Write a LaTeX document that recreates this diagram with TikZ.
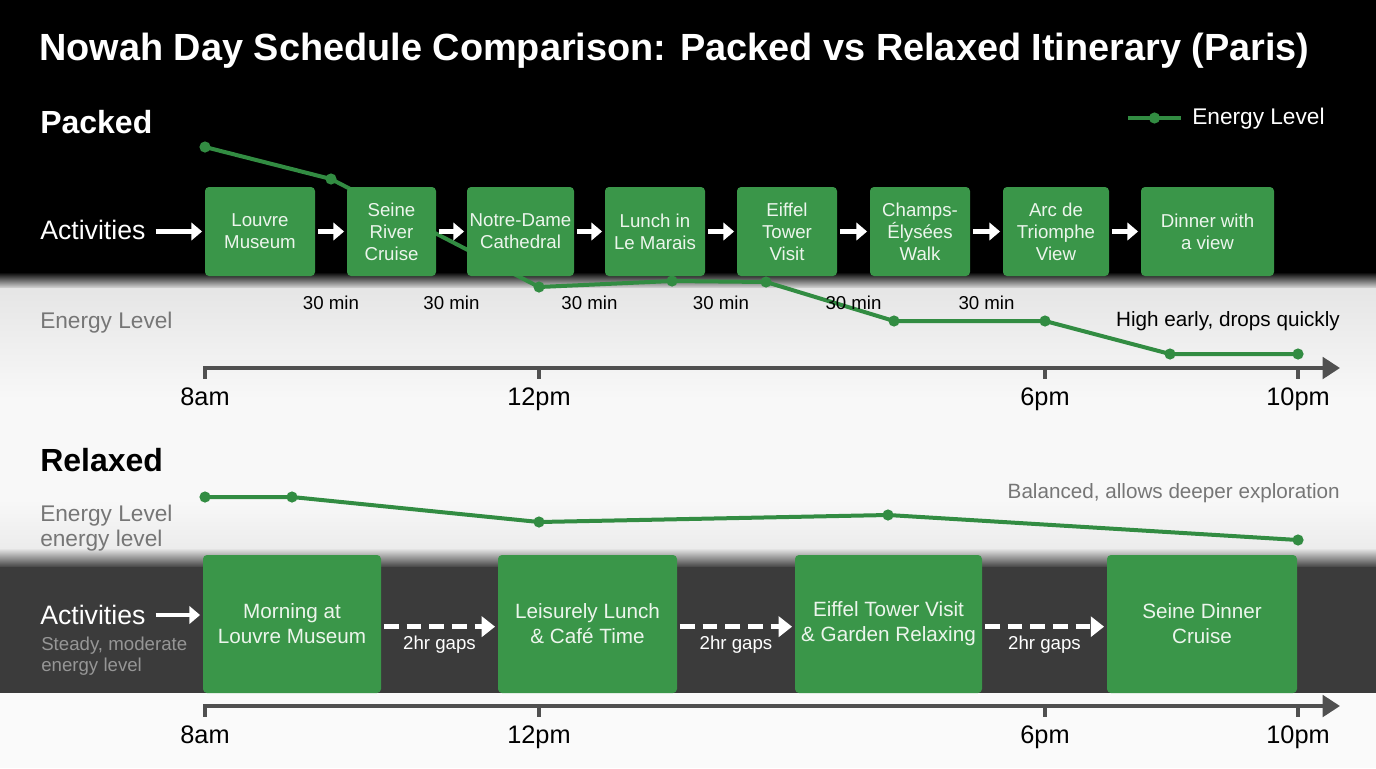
\documentclass[tikz,border=0pt]{standalone}
\usepackage{fontspec}
\setmainfont{Liberation Sans}
\usetikzlibrary{arrows.meta,calc}

\definecolor{boxgreen}{RGB}{58,150,73}
\definecolor{linegreen}{RGB}{50,140,66}
\definecolor{boxtext}{RGB}{236,245,236}
\definecolor{darkband}{RGB}{59,59,59}
\definecolor{axisgray}{RGB}{80,80,80}
\definecolor{softgray}{RGB}{118,118,118}
\definecolor{palegray}{RGB}{150,150,150}
\definecolor{lightbg}{RGB}{248,248,248}

\begin{document}
\begin{tikzpicture}[x=0.75pt,y=-0.75pt,
      actbox/.style={fill=boxgreen,rounded corners=3pt,text=boxtext,align=center,
         inner sep=0pt,minimum height=66.75pt,font=\fontsize{14}{16.5}\selectfont},
      relbox/.style={actbox,minimum height=103.5pt,font=\fontsize{15.5}{18.75}\selectfont},
      flow/.style={white,line width=3.6pt,-{Triangle[length=8pt,width=13pt]},
         shorten <=2pt,shorten >=2pt},
      gapflow/.style={flow,dash pattern=on 11pt off 6pt,-{Triangle[length=10pt,width=15pt]}},
      energy/.style={linegreen,line width=3pt,line join=round},
      axisline/.style={axisgray,line width=3pt,-{Triangle[length=13pt,width=16pt]}},
      tick/.style={axisgray,line width=3pt},
      timelabel/.style={anchor=base,inner sep=0pt,font=\fontsize{19}{22}\selectfont},
      gaplabel/.style={inner sep=0pt,font=\fontsize{14}{16}\selectfont}]
         \useasboundingbox (0,0) rectangle (1376,768) ;
         % backgrounds
         \fill[black] (0,0) rectangle (1376,273) ;
         \shade[top color=black,bottom color=gray!20] (0,272) rectangle (1376,289) ;
         \shade[top color=gray!20,bottom color=lightbg] (0,288) rectangle (1376,400) ;
         \fill[lightbg] (0,399) rectangle (1376,500) ;
         \shade[top color=lightbg,bottom color=gray!15] (0,499) rectangle (1376,549) ;
         \shade[top color=gray!15,bottom color=darkband] (0,548) rectangle (1376,568) ;
         \fill[darkband] (0,567) rectangle (1376,693) ;
         \fill[white!98!black] (0,693) rectangle (1376,768) ;
         %\draw[very thin,gray,step=50] (0,0) grid (1376,768) ;

         \node[anchor=west,inner sep=0pt,text=white,
            font=\bfseries\fontsize{28.4}{32}\selectfont] (title) at (39,51)
            {Nowah Day Schedule Comparison: Packed vs Relaxed Itinerary (Paris)} ;

         % packed day
         \node[anchor=west,inner sep=0pt,text=white,font=\bfseries\fontsize{24}{28}\selectfont]
            (packed) at (40,122) {Packed} ;
         \coordinate (leg1) at (1128,118) ;
         \coordinate (leg2) at (1181,118) ;
         \draw[energy] (leg1) -- (leg2) ;
         \fill[linegreen] ($(leg1)!.5!(leg2)$) circle (4.2pt) ;
         \node[anchor=west,inner sep=0pt,text=white,font=\fontsize{17}{20}\selectfont]
            (legtext) at (1192,119) {Energy Level} ;

         \foreach \i/\x/\y in {1/205/147,2/331/179,3/539/287,4/672/281,5/766/282,
            6/894/321,7/1045/321,8/1170/354,9/1298/354}
            \coordinate (pe\i) at (\x,\y) ;
         \draw[energy] (pe1) \foreach \i in {2,...,9} {-- (pe\i)} ;
         \foreach \i in {1,...,9} \fill[linegreen] (pe\i) circle (4.2pt) ;

         \foreach \n/\x/\w/\t in {p1/260/110/{Louvre\\Museum},p2/391.5/89/{Seine\\River\\Cruise},
            p3/520.5/107/{Notre-Dame\\Cathedral},p4/655/100/{Lunch in\\Le Marais},
            p5/787/100/{Eiffel\\Tower\\Visit},p6/920/100/{Champs-\\Élysées\\Walk},
            p7/1056/106/{Arc de\\Triomphe\\View},p8/1207.5/133/{Dinner with\\a view}}
            \node[actbox,minimum width=\w*0.75pt] (\n) at (\x,231.5) {\t} ;

         \node[anchor=west,inner sep=0pt,text=white,font=\fontsize{20}{24}\selectfont]
            (actp) at (40,230) {Activities} ;
         \draw[flow,shorten <=7.5pt] (actp.east |- p1) -- (p1) ;
         \foreach \a/\b in {p1/p2,p2/p3,p3/p4,p4/p5,p5/p6,p6/p7,p7/p8}
            \draw[flow] (\a) -- (\b) ;
         \foreach \a/\b in {p1/p2,p2/p3,p3/p4,p4/p5,p5/p6,p6/p7}
            \node[gaplabel] (gap\a) at ($(\a.south east)!.5!(\b.south west)+(0,27)$) {30 min} ;

         \node[anchor=west,inner sep=0pt,text=softgray,font=\fontsize{17}{20}\selectfont]
            (enp) at (40,323) {Energy Level} ;
         \node[anchor=east,inner sep=0pt,font=\fontsize{15.5}{18}\selectfont]
            (notep) at (1340,321) {High early, drops quickly} ;

         % time axis 1
         \coordinate (ax1) at (203,368) ;
         \coordinate (ax1end) at (1340,368) ;
         \draw[axisline] (ax1) -- (ax1end) ;
         \foreach \x/\t in {205/8am,539/12pm,1045/6pm,1298/10pm} {
            \draw[tick] (\x,367) -- (\x,379) ;
            \node[timelabel] (t1\t) at (\x,405) {\t} ;
         }

         % relaxed day
         \node[anchor=west,inner sep=0pt,font=\bfseries\fontsize{24}{28}\selectfont]
            (relaxed) at (40,460) {Relaxed} ;
         \node[anchor=east,inner sep=0pt,text=softgray,font=\fontsize{15.5}{18}\selectfont]
            (noter) at (1340,493) {Balanced, allows deeper exploration} ;
         \node[anchor=west,inner sep=0pt,text=softgray,align=left,
            font=\fontsize{17}{19}\selectfont] (enr) at (40,528) {Energy Level\\energy level} ;

         \foreach \i/\x/\y in {1/205/497,2/292/497,3/539/522,4/888/515,5/1298/540}
            \coordinate (re\i) at (\x,\y) ;
         \draw[energy] (re1) \foreach \i in {2,...,5} {-- (re\i)} ;
         \foreach \i in {1,...,5} \fill[linegreen] (re\i) circle (4.2pt) ;

         \foreach \n/\x/\w/\t in {r1/292/178/{Morning at\\Louvre Museum},
            r2/587.5/179/{Leisurely Lunch\\\& Café Time},
            r3/888.5/187/{Eiffel Tower Visit\\\& Garden Relaxing},
            r4/1202/190/{Seine Dinner\\Cruise}}
            \node[relbox,minimum width=\w*0.75pt] (\n) at (\x,624) {\t} ;

         \node[anchor=west,inner sep=0pt,text=white,font=\fontsize{20}{24}\selectfont]
            (actr) at (40,615) {Activities} ;
         \draw[flow,shorten <=7.5pt] (actr.east) -- (actr.east -| r1.west) ;
         \node[anchor=west,inner sep=0pt,text=palegray,align=left,
            font=\fontsize{14}{15.75}\selectfont] (steady) at (41,656) {Steady, moderate\\energy level} ;
         \foreach \a/\b in {r1/r2,r2/r3,r3/r4} {
            \draw[gapflow] ([yshift=-2pt]\a.east) -- ([yshift=-2pt]\b.west) ;
            \node[gaplabel,text=white] (gap\a) at ($(\a.east)!.5!(\b.west)+(0,21)$) {2hr gaps} ;
         }

         % time axis 2
         \coordinate (ax2) at (203,706) ;
         \coordinate (ax2end) at (1340,706) ;
         \draw[axisline] (ax2) -- (ax2end) ;
         \foreach \x/\t in {205/8am,539/12pm,1045/6pm,1298/10pm} {
            \draw[tick] (\x,705) -- (\x,717) ;
            \node[timelabel] (t2\t) at (\x,743) {\t} ;
         }
      \end{tikzpicture}
\end{document}
